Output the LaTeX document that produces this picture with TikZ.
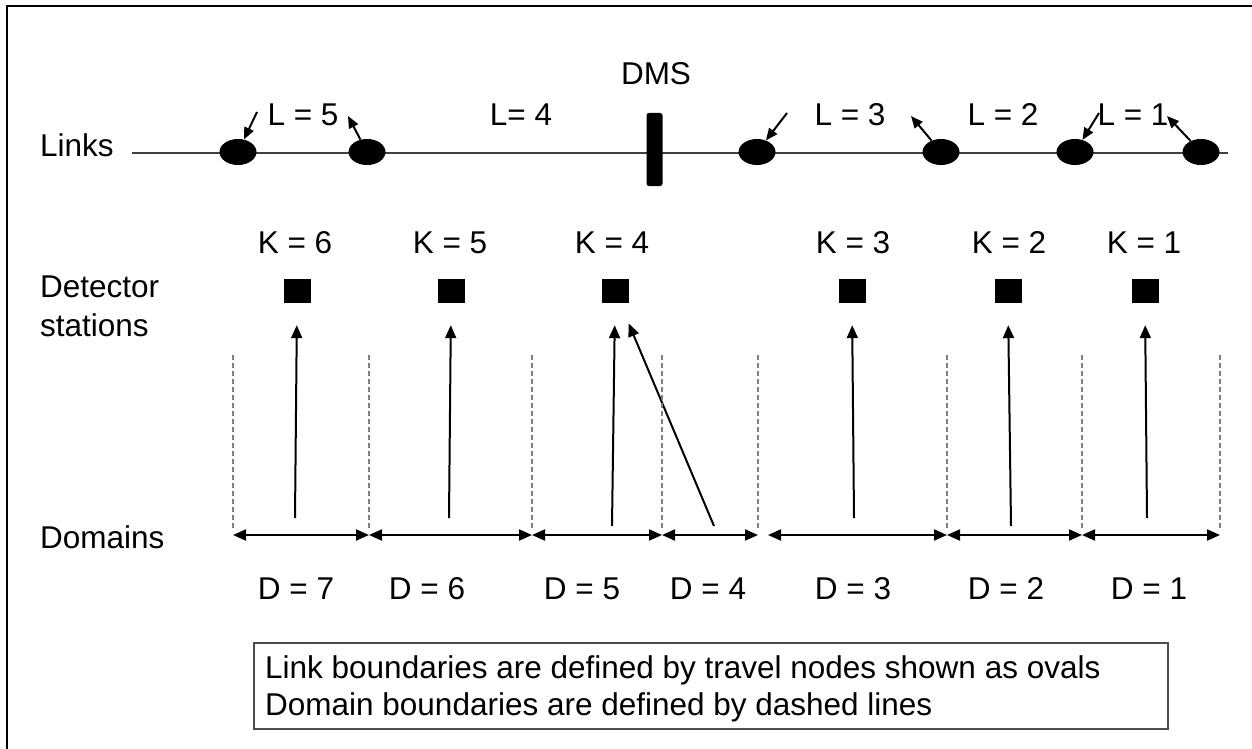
\documentclass[tikz,border=0pt]{standalone}
\usepackage{fontspec}
\setmainfont{Liberation Sans}
\usetikzlibrary{arrows.meta,shapes.geometric}
\begin{document}
\begin{tikzpicture}[x=1pt,y=-1pt,
  txt/.style={font=\fontsize{31.5}{38}\selectfont, inner sep=0pt, anchor=base},
  ltxt/.style={txt, anchor=base west},
  travel/.style={ellipse, fill=black, minimum width=37pt, minimum height=26pt, inner sep=0pt},
  station/.style={rectangle, fill=black, minimum width=27pt, minimum height=24pt, inner sep=0pt},
  dmsbar/.style={rectangle, rounded corners=2.5pt, fill=black, minimum width=16pt, minimum height=73pt, inner sep=0pt},
  linkline/.style={draw=black!75, line width=2pt},
  pointer/.style={-{Triangle[length=12pt,width=10pt]}, line width=2pt},
  upline/.style={-{Triangle[length=13pt,width=11pt]}, line width=2pt, shorten >=22pt},
  bound/.style={draw=black!50, line width=1.5pt, dash pattern=on 5pt off 3pt},
  span/.style={{Triangle[length=13pt,width=11pt]}-{Triangle[length=13pt,width=11pt]}, line width=2pt},
]
\useasboundingbox (0,0) rectangle (1252,749);
\fill[white] (0,0) rectangle (1252,749);

% outer frame (top and left edges)
\draw[line width=2.5pt] (7,749) -- (7,6) -- (1252,6);

% ---- links row ----
\node[ltxt] (links) at (40,157) {Links};
\coordinate (lstart) at (132,153);
\coordinate (lend) at (1228,153);
\draw[linkline] (lstart) -- (lend);

\node[travel] (o1) at (238,152) {};
\node[travel] (o2) at (367,152) {};
\node[travel] (o3) at (757,152) {};
\node[travel] (o4) at (941,152) {};
\node[travel] (o5) at (1075,152) {};
\node[travel] (o6) at (1201,152) {};
\node[dmsbar] (dms) at (654.5,149.5) {};
\node[txt] (dmslabel) at (656,85) {DMS};

\node[txt] (l5) at (303,126) {L = 5};
\node[txt] (l4) at (521,126) {L= 4};
\node[txt] (l3) at (850,126) {L = 3};
\node[txt] (l2) at (1003,126) {L = 2};
\node[txt] (l1) at (1133,126) {L = 1};

\coordinate (p1) at (257,112);
\coordinate (p2) at (348,116);
\coordinate (p3) at (787,113);
\coordinate (p4) at (911,116);
\coordinate (p5) at (1099,113);
\coordinate (p6) at (1167,116);
\draw[pointer] (p1) -- (o1);
\draw[pointer] (o2) -- (p2);
\draw[pointer] (p3) -- (o3);
\draw[pointer] (o4) -- (p4);
\draw[pointer] (p5) -- (o5);
\draw[pointer] (o6) -- (p6);

% ---- detector stations ----
\node[ltxt] (det1) at (40,297) {Detector};
\node[ltxt] (det2) at (40,336) {stations};

\node[txt] (k6) at (295,253) {K = 6};
\node[txt] (k5) at (450,253) {K = 5};
\node[txt] (k4) at (612,253) {K = 4};
\node[txt] (k3) at (853,253) {K = 3};
\node[txt] (k2) at (1009,253) {K = 2};
\node[txt] (k1) at (1144,253) {K = 1};

\node[station] (s6) at (297,291) {};
\node[station] (s5) at (451,291) {};
\node[station] (s4) at (615,291) {};
\node[station] (s3) at (852,291) {};
\node[station] (s2) at (1008,291) {};
\node[station] (s1) at (1145,291) {};

\coordinate (b6) at (295,518);
\coordinate (b5) at (449,518);
\coordinate (b4) at (612,526);
\coordinate (b4x) at (714,526);
\coordinate (b3) at (854,518);
\coordinate (b2) at (1011,526);
\coordinate (b1) at (1147,518);
\draw[upline] (b6) -- (s6.south);
\draw[upline] (b5) -- (s5.south);
\draw[upline] (b4) -- (s4.south);
\draw[upline] (b4x) -- (s4);
\draw[upline] (b3) -- (s3.south);
\draw[upline] (b2) -- (s2.south);
\draw[upline] (b1) -- (s1.south);

% ---- domains ----
\node[ltxt] (domains) at (40,548) {Domains};

\foreach \i/\x in {1/233,2/369,3/532,4/662,5/758,6/947,7/1082,8/1220}{
  \coordinate (t\i) at (\x,355);
  \coordinate (d\i) at (\x,535);
  \draw[bound] (t\i) -- (\x,530);
}
\coordinate (d5r) at (768,535);

\draw[span] (d1) -- (d2);
\draw[span] (d2) -- (d3);
\draw[span] (d3) -- (d4);
\draw[span] (d4) -- (d5);
\draw[span] (d5r) -- (d6);
\draw[span] (d6) -- (d7);
\draw[span] (d7) -- (d8);

\node[txt] (dd7) at (296,599) {D = 7};
\node[txt] (dd6) at (427,599) {D = 6};
\node[txt] (dd5) at (582,599) {D = 5};
\node[txt] (dd4) at (708,599) {D = 4};
\node[txt] (dd3) at (853,599) {D = 3};
\node[txt] (dd2) at (1006,599) {D = 2};
\node[txt] (dd1) at (1149,599) {D = 1};

% ---- legend ----
\node[draw=black!70, line width=1.5pt, minimum width=914pt, minimum height=86pt, inner sep=0pt] (legend) at (711,686) {};
\node[ltxt] (leg1) at (265,678) {Link boundaries are defined by travel nodes shown as ovals};
\node[ltxt] (leg2) at (265,715) {Domain boundaries are defined by dashed lines};
\end{tikzpicture}
\end{document}
